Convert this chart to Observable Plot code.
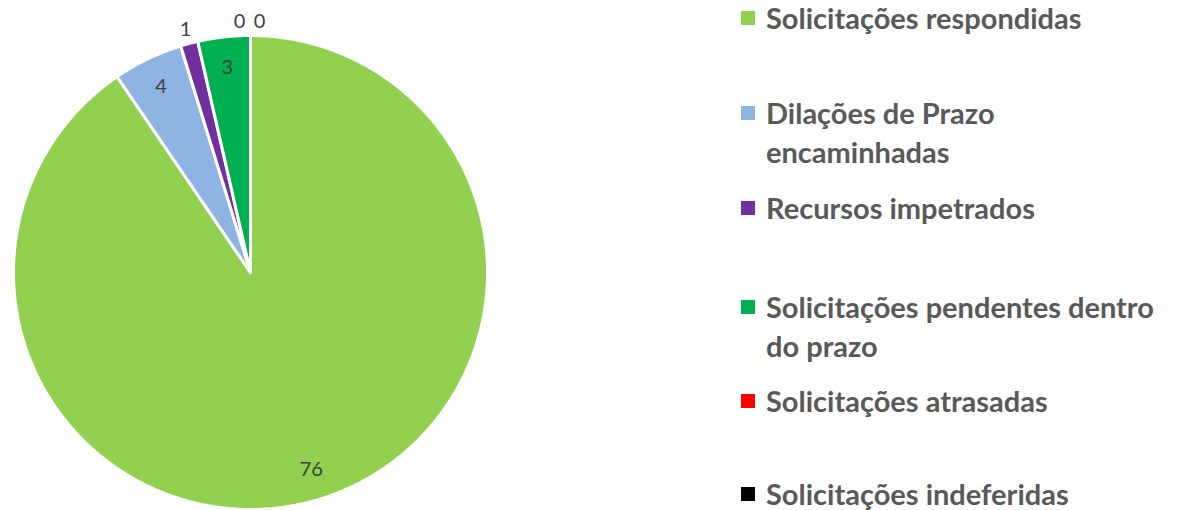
<!DOCTYPE html>
<html>
<head>
<meta charset="utf-8">
<script src="https://cdn.jsdelivr.net/npm/d3@7"></script>
<script src="https://cdn.jsdelivr.net/npm/@observablehq/plot@0.6"></script>
<style>
  html, body { margin: 0; padding: 0; background: #fff; }
  #wrap { position: relative; width: 1182px; height: 510px; overflow: hidden; }
  #chart { position: absolute; left: 0; top: 0; }
  .leg { position: absolute; left: 741px; font-family: Lato, "Open Sans", sans-serif; font-weight: bold;
         font-size: 29px; line-height: 39px; color: #595959; white-space: nowrap; }
  .sw { position: absolute; left: 0; width: 14px; height: 14px; top: 12px; }
  .tx { position: absolute; left: 25px; top: 0; }
</style>
</head>
<body>
<div id="wrap"><div id="chart"></div></div>
<script>
const categories = [
  "Solicitações respondidas",
  "Dilações de Prazo encaminhadas",
  "Recursos impetrados",
  "Solicitações pendentes dentro do prazo",
  "Solicitações atrasadas",
  "Solicitações indeferidas"
];
const values = [76, 4, 1, 3, 0, 0];
const colors = ["#92D050", "#8DB4E2", "#7030A0", "#00B050", "#FF0000", "#000000"];
const legendLines = [
  ["Solicitações respondidas"],
  ["Dilações de Prazo", "encaminhadas"],
  ["Recursos impetrados"],
  ["Solicitações pendentes dentro", "do prazo"],
  ["Solicitações atrasadas"],
  ["Solicitações indeferidas"]
];

const total = d3.sum(values);
const arcs = d3.pie().sort(null).value(d => d)(values);

// slice polygons (unit circle, angle clockwise from top)
const polys = [];
arcs.forEach((a, i) => {
  if (values[i] === 0) return;
  const name = categories[i];
  polys.push({name, x: 0, y: 0});
  const n = Math.max(2, Math.ceil((a.endAngle - a.startAngle) / 0.005));
  for (let k = 0; k <= n; k++) {
    const t = a.startAngle + (a.endAngle - a.startAngle) * k / n;
    polys.push({name, x: Math.sin(t), y: Math.cos(t)});
  }
  polys.push({name, x: 0, y: 0});
});

// labels
let zeroIdx = 0;
const labels = arcs.map((a, i) => {
  const mid = (a.startAngle + a.endAngle) / 2;
  const share = values[i] / total;
  const r = share < 0.03 ? 1.06 : 0.87;
  let dx = 0;
  if (values[i] === 0) { dx = zeroIdx === 0 ? -11 : 9; zeroIdx++; }
  return {label: String(values[i]), x: Math.sin(mid) * r, y: Math.cos(mid) * r, dx};
});

const plot = Plot.plot({
  width: 740,
  height: 510,
  margin: 0,
  x: {domain: [-1, 1], range: [13, 487], axis: null},
  y: {domain: [-1, 1], range: [509, 35], axis: null},
  color: {domain: categories, range: colors},
  marks: [
    Plot.line(polys, {x: "x", y: "y", z: "name", fill: "name", stroke: "white", strokeWidth: 3, strokeLinejoin: "round", curve: "linear"}),
    ...labels.map(l => Plot.text([l], {x: "x", y: "y", text: "label", dx: l.dx, fill: "#404040", fontSize: 20, fontFamily: "Lato, 'Open Sans', sans-serif"}))
  ],
  style: {background: "transparent", overflow: "visible"}
});
document.getElementById("chart").appendChild(plot);

// legend
const legendTops = [0, 95, 190, 289, 383, 476];
const wrap = document.getElementById("wrap");
categories.forEach((c, i) => {
  const d = document.createElement("div");
  d.className = "leg";
  d.style.top = (legendTops[i] - 2) + "px";
  const sw = document.createElement("div");
  sw.className = "sw";
  sw.style.background = colors[i];
  sw.style.top = "13px";
  d.appendChild(sw);
  const tx = document.createElement("div");
  tx.className = "tx";
  tx.innerHTML = legendLines[i].join("<br>");
  d.appendChild(tx);
  wrap.appendChild(d);
});
</script>
</body>
</html>
